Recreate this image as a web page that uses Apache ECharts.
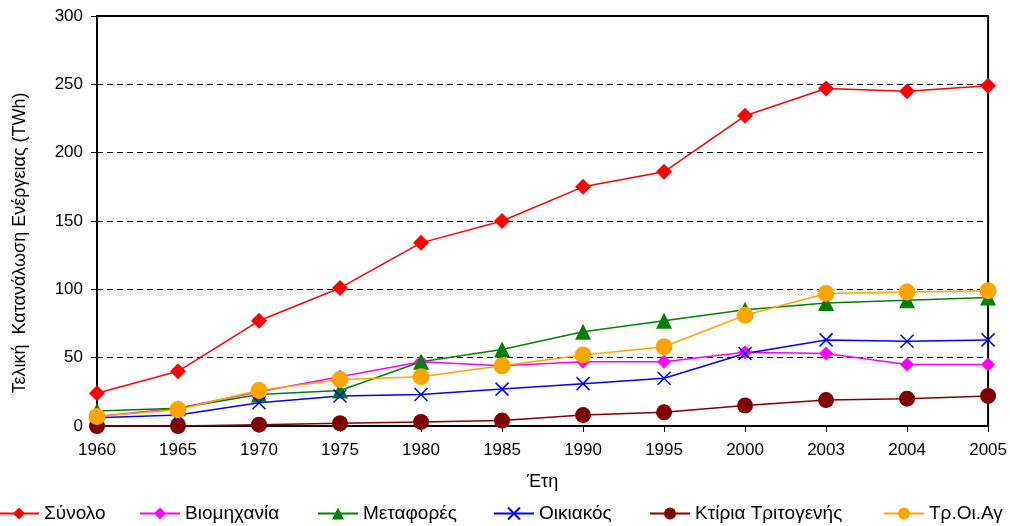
<!DOCTYPE html>
<html><head><meta charset="utf-8">
<script src="https://cdn.jsdelivr.net/npm/echarts@6/dist/echarts.min.js"></script>
<style>html,body{margin:0;padding:0;background:#fff}#c{width:1010px;height:526px}</style>
</head><body><div id="c"></div>
<script>
const years = ['1960','1965','1970','1975','1980','1985','1990','1995','2000','2003','2004','2005'];
const synolo = [24,40,77,101,134,150,175,186,227,247,245,249];
const viomichania = [7,13,25,36,47,44,47,47,54,53,45,45];
const metafores = [11,13,23,26,47,56,69,77,85,90,92,94];
const oikiakos = [6,8,17,22,23,27,31,35,53,63,62,63];
const tritogenis = [0,0,1,2,3,4,8,10,15,19,20,22];
const trOiAg = [7,12,26,34,36,44,52,58,81,97,98,99];
const seriesNames = ['Σύνολο','Βιομηχανία','Μεταφορές','Οικιακός','Κτίρια Τριτογενής','Τρ.Οι.Αγ'];
const yTicks = [0,50,100,150,200,250,300];
const yTitle = 'Τελική  Κατανάλωση Ενέργειας (TWh)';
const xTitle = 'Έτη';

const font = 'Liberation Sans, Arial, sans-serif';
const cross = 'path://M0,0L10,10M10,0L0,10';
function s(name, data, color, symbol, size, extra) {
  return Object.assign({
    name, type: 'line', data, symbol, symbolSize: size,
    lineStyle: {color, width: 1.5}, itemStyle: {color},
    emphasis: {disabled: true}, animation: false
  }, extra || {});
}
const legendLefts = [-2, 139, 317, 493, 649, 883];
const legends = seriesNames.map((n, i) => ({
  data: [n], left: legendLefts[i], top: 504, padding: 0, itemWidth: 40, itemHeight: 15, itemGap: 5,
  textStyle: {fontFamily: font, fontSize: 19, color: '#000'}
}));
const chart = echarts.init(document.getElementById('c'));
chart.setOption({
  animation: false,
  textStyle: {fontFamily: font},
  grid: {left: 97, right: 17, top: 16, bottom: 100, show: true, borderColor: '#000', borderWidth: 2},
  legend: legends,
  graphic: [{
    type: 'text', x: 20, y: 243, rotation: Math.PI / 2,
    style: {text: yTitle, fontFamily: font, fontSize: 18, fill: '#000', align: 'center', verticalAlign: 'middle'}
  }],
  xAxis: {
    type: 'category', data: years, boundaryGap: false,
    name: xTitle, nameLocation: 'middle', nameGap: 47,
    nameTextStyle: {fontFamily: font, fontSize: 18, color: '#000'},
    axisLine: {lineStyle: {color: '#000', width: 2}},
    axisTick: {show: true, inside: false, length: 6, alignWithLabel: true, lineStyle: {color: '#000'}},
    axisLabel: {fontFamily: font, fontSize: 17, color: '#000', margin: 16},
    splitLine: {show: false}
  },
  yAxis: {
    type: 'value', min: 0, max: 300, interval: 50,
    axisLine: {show: true, lineStyle: {color: '#000', width: 2}},
    axisTick: {show: true, inside: false, length: 6, lineStyle: {color: '#000'}},
    axisLabel: {fontFamily: font, fontSize: 17, color: '#000', margin: 14,
      formatter: v => yTicks.includes(v) ? String(v) : ''},
    splitLine: {show: true, lineStyle: {color: '#000', type: [6, 4], width: 1}}
  },
  series: [
    s(seriesNames[0], synolo, '#FF0000', 'diamond', 16),
    s(seriesNames[1], viomichania, '#FF00FF', 'diamond', 14),
    s(seriesNames[2], metafores, '#008000', 'triangle', 16),
    s(seriesNames[3], oikiakos, '#0000FF', cross, 13,
      {itemStyle: {color: '#0000FF', borderColor: '#0000FF', borderWidth: 1.5}}),
    s(seriesNames[4], tritogenis, '#800000', 'circle', 16),
    s(seriesNames[5], trOiAg, '#FFA500', 'circle', 17)
  ]
});
</script></body></html>
